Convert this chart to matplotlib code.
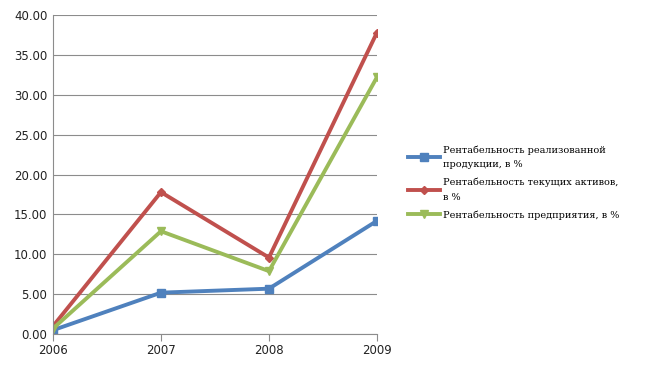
import matplotlib.pyplot as plt

years = ["2006", "2007", "2008", "2009"]
sales_return = [0.5, 5.2, 5.7, 14.2]
assets_return = [1.0, 17.8, 9.6, 37.8]
company_return = [0.7, 12.9, 7.9, 32.2]

labels = [
    "Рентабельность реализованной\nпродукции, в %",
    "Рентабельность текущих активов,\nв %",
    "Рентабельность предприятия, в %",
]

fig = plt.figure(figsize=(6.46, 3.66), dpi=100)
ax = fig.add_axes([0.082, 0.087, 0.5015, 0.872])

x = range(len(years))
ax.plot(x, sales_return, color="#4F81BD", lw=2.8, marker="s", ms=5.5, label=labels[0])
ax.plot(x, assets_return, color="#C0504D", lw=2.8, marker="D", ms=4, label=labels[1])
ax.plot(x, company_return, color="#9BBB59", lw=2.8, marker="v", ms=5.5, label=labels[2])

ax.set_xlim(0, 3)
ax.set_ylim(0, 40)
ax.set_yticks(range(0, 41, 5))
ax.set_yticklabels([f"{v:.2f}" for v in range(0, 41, 5)])
ax.set_xticks(list(x))
ax.set_xticklabels(years)
ax.yaxis.grid(True, color="#8c8c8c", lw=0.8)
ax.set_axisbelow(True)
for s in ["top", "right"]:
    ax.spines[s].set_visible(False)
ax.spines["left"].set_color("#8c8c8c")
ax.spines["bottom"].set_color("#8c8c8c")
ax.tick_params(axis="y", length=0, labelsize=8.5, pad=4, colors="#222222")
ax.tick_params(axis="x", length=5, color="#8c8c8c", labelsize=8.5, pad=2, labelcolor="#222222")
for lbl in ax.get_xticklabels() + ax.get_yticklabels():
    lbl.set_clip_on(False)

leg = fig.legend(loc="upper left", bbox_to_anchor=(0.632, 0.603), frameon=False,
                 prop={"family": "DejaVu Serif", "size": 7}, handlelength=3.3,
                 handletextpad=0.3, labelspacing=0.9, borderaxespad=0, borderpad=0)
for t in leg.get_texts():
    t.set_linespacing(1.75)

fig.savefig("out.png", dpi=100)
